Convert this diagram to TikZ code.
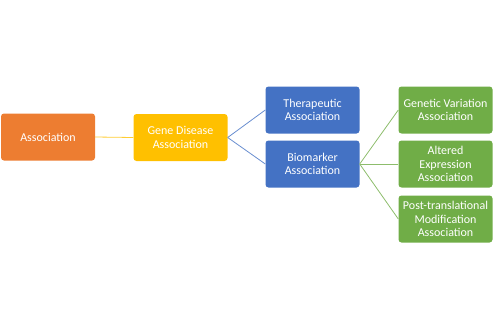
\documentclass[tikz,border=0pt]{standalone}
\usepackage{fontspec}
\setmainfont{Carlito}
\definecolor{cOrange}{HTML}{ED7D31}
\definecolor{cYellow}{HTML}{FFC000}
\definecolor{cBlue}{HTML}{4472C4}
\definecolor{cGreen}{HTML}{70AD47}
\begin{document}
\begin{tikzpicture}[x=1pt,y=-1pt,
  box/.style={rounded corners=3pt,minimum width=94pt,minimum height=47pt,inner sep=1pt,
    text=white,align=center,font=\fontsize{12}{13.5}\selectfont},
  ob/.style={box,fill=cOrange},
  yb/.style={box,fill=cYellow},
  bb/.style={box,fill=cBlue},
  gb/.style={box,fill=cGreen},
  link/.style={line width=0.8pt}]
\useasboundingbox (0,0) rectangle (500,329);
\node[ob] (assoc) at (48,137) {Association};
\node[yb] (gene) at (180.5,137.5) {Gene Disease\\Association};
\node[bb] (thera) at (312.5,110) {Therapeutic\\Association};
\node[bb] (bio) at (312.5,164) {Biomarker\\Association};
\node[gb] (genv) at (445.5,110) {Genetic Variation\\Association};
\node[gb] (alt) at (445.5,164) {Altered\\Expression\\Association};
\node[gb] (post) at (445.5,219) {Post-translational\\Modification\\Association};
\draw[link,draw=cYellow!80] (assoc.east) -- (gene.west);
\draw[link,draw=cBlue!80] (gene.east) -- (thera.west);
\draw[link,draw=cBlue!80] (gene.east) -- (bio.west);
\draw[link,draw=cGreen!80] (bio.east) -- (genv.west);
\draw[link,draw=cGreen!80] (bio.east) -- (alt.west);
\draw[link,draw=cGreen!80] (bio.east) -- (post.west);
\end{tikzpicture}
\end{document}
